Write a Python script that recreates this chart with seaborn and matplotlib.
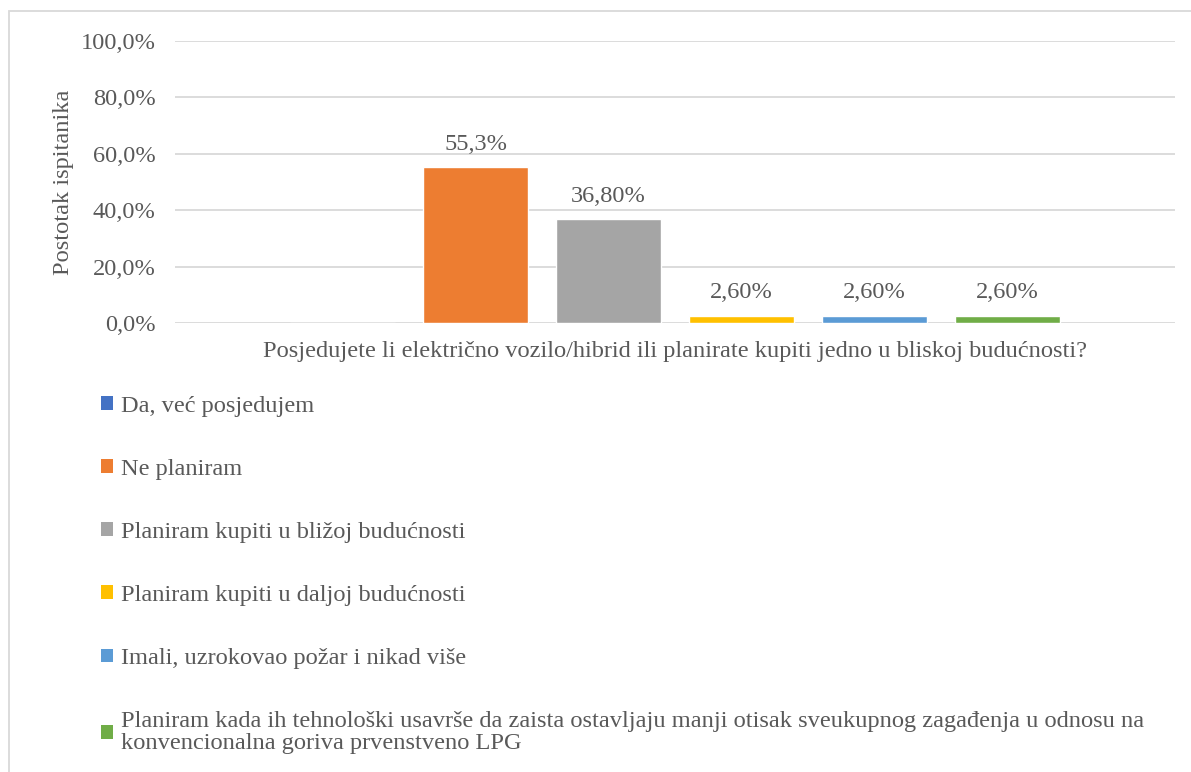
import matplotlib.pyplot as plt
import seaborn as sns
import pandas as pd
from matplotlib.patches import Patch, Rectangle
from matplotlib.ticker import FuncFormatter

question = "Posjedujete li električno vozilo/hibrid ili planirate kupiti jedno u bliskoj budućnosti?"
answers = [
    "Da, već posjedujem",
    "Ne planiram",
    "Planiram kupiti u bližoj budućnosti",
    "Planiram kupiti u daljoj budućnosti",
    "Imali, uzrokovao požar i nikad više",
    "Planiram kada ih tehnološki usavrše da zaista ostavljaju manji otisak sveukupnog zagađenja u odnosu na\nkonvencionalna goriva prvenstveno LPG",
]
shares = [0.0, 0.553, 0.368, 0.026, 0.026, 0.026]
bar_labels = ["", "55,3%", "36,80%", "2,60%", "2,60%", "2,60%"]
colors = ["#4472C4", "#ED7D31", "#A5A5A5", "#FFC000", "#5B9BD5", "#70AD47"]

TXT = "#595959"
FS = 17.6
sns.set_style("white")
plt.rcParams["font.family"] = ["Liberation Serif", "DejaVu Serif"]
plt.rcParams["font.size"] = FS

df = pd.DataFrame({"q": [question] * len(answers), "a": answers, "v": shares})

fig = plt.figure(figsize=(11.91, 7.72), dpi=100)
ax = fig.add_axes([175 / 1191, 1 - 323 / 772, 1000 / 1191, 282 / 772])

sns.barplot(data=df, x="q", y="v", hue="a", palette=colors, width=0.798,
            gap=0.21, ax=ax, legend=False, saturation=1)

for cont, lab in zip(ax.containers, bar_labels):
    ax.bar_label(cont, labels=[lab], padding=9, fontsize=FS, color=TXT)

ax.set_xlim(-0.5, 0.5)
ax.set_ylim(0, 1.0)
ax.set_yticks([0, 0.2, 0.4, 0.6, 0.8, 1.0])
ax.yaxis.set_major_formatter(FuncFormatter(lambda v, p: f"{v * 100:.1f}%".replace(".", ",")))
ax.grid(axis="y", color="#D9D9D9", linewidth=1.3)
ax.set_axisbelow(True)
for s in ax.spines.values():
    s.set_visible(False)
ax.tick_params(axis="y", length=0, pad=14, labelsize=FS, labelcolor=TXT)
ax.tick_params(axis="x", length=0, pad=13, labelsize=FS, labelcolor=TXT)
for t in ax.get_xticklabels():
    t.set_x(0.01)
ax.set_xlabel("")
ax.set_ylabel("Postotak ispitanika", fontsize=FS, color=TXT, labelpad=5)

handles = [Patch(facecolor=c, edgecolor="none") for c in colors]
leg = fig.legend(handles, answers, loc="upper left", bbox_to_anchor=(101 / 1191, 1 - 396 / 772),
                 frameon=False, fontsize=FS, labelcolor=TXT, handlelength=0.5,
                 handleheight=0.5, handletextpad=0.3, labelspacing=1.72, borderaxespad=0,
                 borderpad=0)
for t in leg.get_texts():
    t.set_linespacing(1.05)

# chart frame (left and top edges visible)
fig.add_artist(Rectangle((8.5 / 1191, -0.1), 1.2, 1 - 11 / 772 + 0.1, transform=fig.transFigure,
                         fill=False, edgecolor="#D9D9D9", linewidth=1.3))

fig.savefig("out.png", dpi=100)
